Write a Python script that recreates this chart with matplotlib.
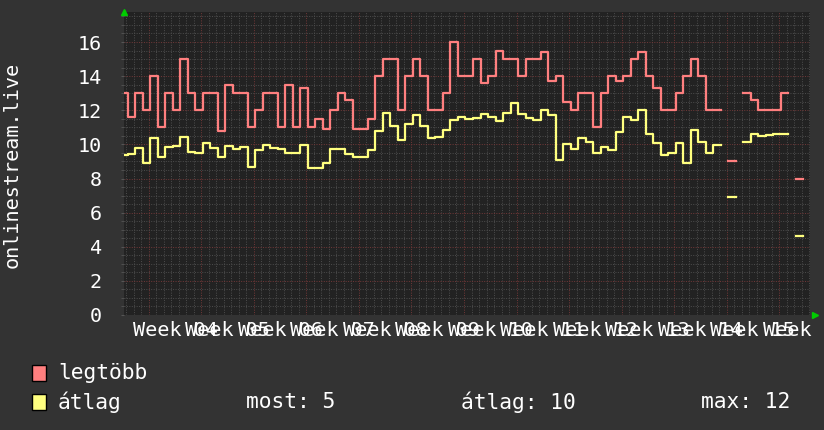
import matplotlib.pyplot as plt
import numpy as np
from matplotlib.patches import Rectangle
from matplotlib.ticker import MultipleLocator

nan = np.nan

# one value per day, day 0 = start of "Week 04"
first_day = -4
legtobb = [13, 11.6, 13, 12,
           14, 11, 13, 12, 15, 13, 12,
           13, 13, 10.8, 13.5, 13, 13, 11,
           12, 13, 13, 11, 13.5, 11, 13.3,
           11, 11.5, 10.9, 12, 13, 12.6, 10.9,
           10.9, 11.5, 14, 15, 15, 12, 14,
           15, 14, 12, 12, 13, 16, 14,
           14, 15, 13.6, 14, 15.5, 15, 15,
           14, 15, 15, 15.4, 13.7, 14, 12.5,
           12, 13, 13, 11, 13, 14, 13.7,
           14, 15, 15.4, 14, 13.3, 12, 12,
           13, 14, 15, 14, 12, 12, nan,
           9, nan, 13, 12.6, 12, 12, 12,
           13, nan, 8]
atlag = [9.35, 9.42, 9.77, 8.93,
         10.36, 9.28, 9.83, 9.9, 10.41, 9.57, 9.51,
         10.06, 9.77, 9.24, 9.89, 9.71, 9.83, 8.66,
         9.65, 9.96, 9.81, 9.75, 9.48, 9.48, 9.96,
         8.6, 8.6, 8.89, 9.75, 9.71, 9.44, 9.28,
         9.28, 9.67, 10.8, 11.82, 11.08, 10.26, 11.2,
         11.72, 11.1, 10.39, 10.45, 10.84, 11.43, 11.63,
         11.51, 11.57, 11.79, 11.63, 11.37, 11.82, 12.45,
         11.79, 11.57, 11.43, 12.02, 11.72, 9.09, 10.02,
         9.73, 10.36, 10.16, 9.48, 9.87, 9.67, 10.75,
         11.59, 11.43, 12.02, 10.61, 10.06, 9.37, 9.48,
         10.1, 8.93, 10.84, 10.16, 9.48, 9.96, nan,
         6.94, nan, 10.16, 10.61, 10.49, 10.55, 10.61,
         10.61, nan, 4.65]

week_labels = ["Week 04", "Week 05", "Week 06", "Week 07", "Week 08",
               "Week 09", "Week 10", "Week 11", "Week 12", "Week 13",
               "Week 14", "Week 15", "Week 16"]
week_starts = [0, 7, 14, 21, 28, 35, 42, 49, 56, 63, 70, 77, 84]

legend_names = ["legtöbb", "átlag"]
legend_stats = ["most: 5", "átlag: 10", "max: 12"]

red = "#ff7f7f"
yellow = "#ffff7f"
mono = "DejaVu Sans Mono"
fsize = 14.5
lsize = 15.3

fig = plt.figure(figsize=(8.24, 4.30), dpi=100, facecolor="#333333")
ax = fig.add_axes([124 / 824, 115 / 430, 686 / 824, 303 / 430])
ax.set_facecolor("#222222")

shift = 0.2
x = np.arange(first_day, first_day + len(legtobb) + 1) + shift
ax.step(x, legtobb + [legtobb[-1]], where="post", color=red, lw=1.6, zorder=3)
ax.step(x, atlag + [atlag[-1]], where="post", color=yellow, lw=1.6, zorder=3)

ax.set_xlim(-3.33, 88.13)
ax.set_ylim(0, 17.76)

ax.xaxis.set_major_locator(MultipleLocator(7))
ax.xaxis.set_minor_locator(MultipleLocator(1))
ax.yaxis.set_major_locator(MultipleLocator(2))
ax.yaxis.set_minor_locator(MultipleLocator(0.5))
ax.grid(which="minor", color="#4d4d4d", lw=0.7, linestyle=(0, (1, 1.5)))
ax.grid(which="major", color="#733838", lw=0.7, linestyle=(0, (1, 1.5)))
ax.set_axisbelow(True)

for s in ax.spines.values():
    s.set_visible(False)
ax.tick_params(axis="x", which="both", length=0, labelbottom=False)
ax.tick_params(axis="y", which="major", length=2, color="#555555", pad=14,
               labelcolor="white", labelsize=fsize)
ax.tick_params(axis="y", which="minor", length=2, color="#555555")
for lab in ax.get_yticklabels():
    lab.set_fontfamily(mono)

# week labels sit in the middle of each week
for start, lab in zip(week_starts, week_labels):
    ax.annotate(lab, xy=(start + 3.5, 0), xycoords=("data", "axes fraction"),
                xytext=(0, -4), textcoords="offset points", ha="center", va="top",
                color="white", fontsize=fsize, family=mono, annotation_clip=False)

# green axis arrows
ax.plot([0], [1.0], marker="^", color="#00cc00", ms=4, transform=ax.transAxes,
        clip_on=False)
ax.plot([1.007], [0], marker=">", color="#00cc00", ms=4, transform=ax.transAxes,
        clip_on=False)

fig.text(12 / 824, 1 - 165 / 430, "onlinestream.live", rotation=90, ha="center",
         va="center", color="white", fontsize=fsize, family=mono)

# legend
for i, (name, col) in enumerate(zip(legend_names, [red, yellow])):
    yc = 373 + i * 29
    fig.patches.append(Rectangle((32 / 824, 1 - (yc + 8) / 430), 14 / 824, 16 / 430,
                                 transform=fig.transFigure, facecolor=col,
                                 edgecolor="black", lw=1.0))
    fig.text(58 / 824, 1 - yc / 430, name, ha="left", va="center", color="white",
             fontsize=lsize, family=mono)

for xpos, txt in zip([246, 461, 701], legend_stats):
    fig.text(xpos / 824, 1 - 402 / 430, txt, ha="left", va="center", color="white",
             fontsize=lsize, family=mono)

fig.savefig("out.png", dpi=100, facecolor=fig.get_facecolor())
